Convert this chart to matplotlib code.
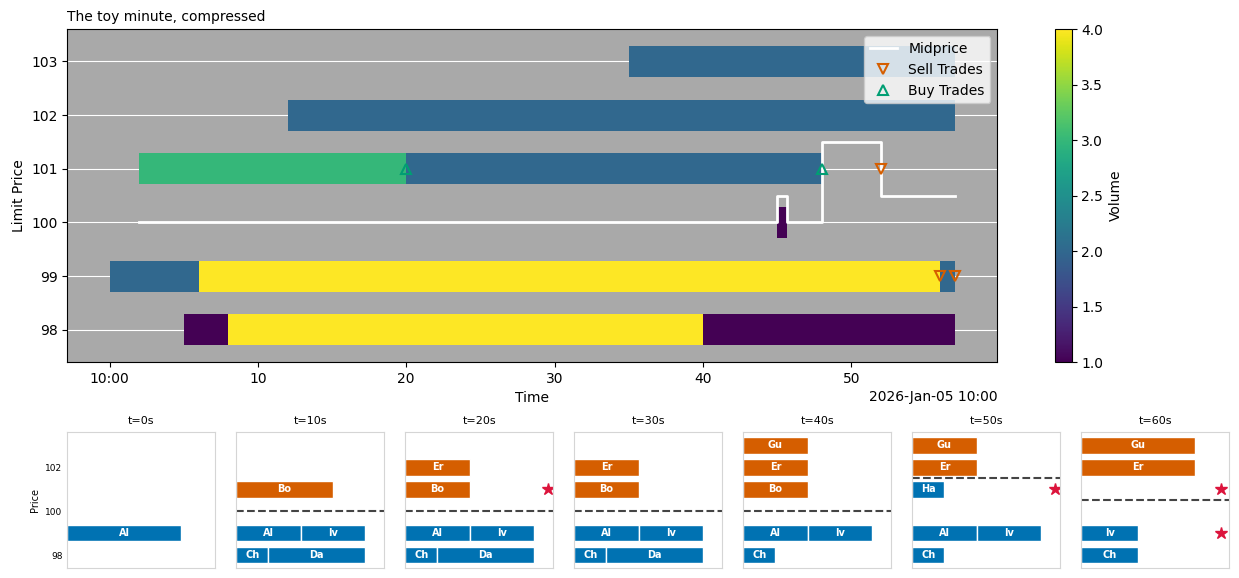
import numpy as np
import matplotlib.pyplot as plt
import matplotlib.dates as mdates
from datetime import datetime

# main chart: resting volume per price level over time (seconds after 10:00)
seg_price = [103, 102, 101, 101, 100, 99, 99, 99, 98, 98, 98]
seg_start = [35, 12, 2, 20, 45, 0, 6, 56, 5, 8, 40]
seg_end = [57, 57, 20, 48, 45.7, 6, 56, 57, 8, 40, 57]
seg_vol = [2, 2, 3, 2, 1, 2, 4, 2, 1, 4, 1]

mid_t = [2, 45, 45.7, 48, 52, 57]
mid_p = [100, 100.5, 100, 101.5, 100.5, 100.5]

sell_t = [52, 56, 57]
sell_p = [101, 99, 99]
buy_t = [20, 48]
buy_p = [101, 101]

# snapshots: (order, side, price, volume) in queue order
snap_times = [0, 10, 20, 30, 40, 50, 60]
snap_mids = [None, 100, 100, 100, 100, 101.5, 100.5]
snap_trades = [[], [], [101], [], [], [101], [101, 99]]
book_t0 = [("Al", "bid", 99, 2)]
book_t10 = [("Bo", "ask", 101, 3), ("Al", "bid", 99, 2), ("Iv", "bid", 99, 2),
            ("Ch", "bid", 98, 1), ("Da", "bid", 98, 3)]
book_t20 = [("Er", "ask", 102, 2), ("Bo", "ask", 101, 2), ("Al", "bid", 99, 2),
            ("Iv", "bid", 99, 2), ("Ch", "bid", 98, 1), ("Da", "bid", 98, 3)]
book_t30 = [("Er", "ask", 102, 2), ("Bo", "ask", 101, 2), ("Al", "bid", 99, 2),
            ("Iv", "bid", 99, 2), ("Ch", "bid", 98, 1), ("Da", "bid", 98, 3)]
book_t40 = [("Gu", "ask", 103, 2), ("Er", "ask", 102, 2), ("Bo", "ask", 101, 2),
            ("Al", "bid", 99, 2), ("Iv", "bid", 99, 2), ("Ch", "bid", 98, 1)]
book_t50 = [("Gu", "ask", 103, 2), ("Er", "ask", 102, 2), ("Ha", "bid", 101, 1),
            ("Al", "bid", 99, 2), ("Iv", "bid", 99, 2), ("Ch", "bid", 98, 1)]
book_t60 = [("Gu", "ask", 103, 2), ("Er", "ask", 102, 2), ("Iv", "bid", 99, 1),
            ("Ch", "bid", 98, 1)]
books = [book_t0, book_t10, book_t20, book_t30, book_t40, book_t50, book_t60]

base = mdates.date2num(datetime(2026, 1, 5, 10, 0, 0))
def tnum(s):
    return base + np.asarray(s, dtype=float) / 86400.0

W, H = 1239, 578
def rect(l, t, r, b):
    return [l / W, 1 - b / H, (r - l) / W, (b - t) / H]

fig = plt.figure(figsize=(12.39, 5.78), dpi=100)
ax = fig.add_axes(rect(67.3, 29.3, 997.3, 362))
cax = fig.add_axes(rect(1055.3, 29.3, 1071.7, 362))

cmap = plt.get_cmap('viridis')
norm = plt.Normalize(1, 4)

ax.set_facecolor('darkgray')
for p, s, e, v in zip(seg_price, seg_start, seg_end, seg_vol):
    ax.barh(p, (e - s) / 86400.0, left=tnum(s), height=0.58,
            color=cmap(norm(v)), linewidth=0, zorder=2)
ax.plot(tnum(mid_t), mid_p, drawstyle='steps-post', color='white', lw=2,
        label='Midprice', zorder=3)
ax.plot(tnum(sell_t), sell_p, 'v', ls='none', mfc='none', mec='#D55E00',
        mew=1.5, ms=7, label='Sell Trades', zorder=4)
ax.plot(tnum(buy_t), buy_p, '^', ls='none', mfc='none', mec='#009E73',
        mew=1.5, ms=7, label='Buy Trades', zorder=4)

ax.xaxis_date()
loc = mdates.SecondLocator(bysecond=range(0, 60, 10))
ax.xaxis.set_major_locator(loc)
ax.xaxis.set_major_formatter(mdates.ConciseDateFormatter(loc))
ax.set_xlim(tnum(-2.85), tnum(59.85))
ax.set_ylim(97.4, 103.6)
ax.set_yticks([98, 99, 100, 101, 102, 103])
ax.grid(axis='y', color='white', linewidth=0.8)
ax.set_axisbelow(True)
ax.set_xlabel('Time')
ax.set_ylabel('Limit Price')
ax.set_title('The toy minute, compressed', loc='left', fontsize=10)
ax.legend(loc='upper right')

sm = plt.cm.ScalarMappable(norm=norm, cmap=cmap)
fig.colorbar(sm, cax=cax, label='Volume')

side_col = {"bid": "#0072B2", "ask": "#D55E00"}
for k, (t, book) in enumerate(zip(snap_times, books)):
    pax = fig.add_axes(rect(67.3 + 169 * k, 432.3, 215.3 + 169 * k, 568.3))
    cum = {}
    for name, side, price, vol in book:
        left = cum.get(price, 0)
        pax.barh(price, vol, left=left, height=0.75, color=side_col[side],
                 edgecolor='white', linewidth=1)
        pax.text(left + vol / 2, price, name, ha='center', va='center',
                 color='white', fontsize=7, fontweight='bold')
        cum[price] = left + vol
    total = max(cum.values())
    pax.set_xlim(0, total + 0.6)
    pax.set_ylim(97.4, 103.6)
    if snap_mids[k] is not None:
        pax.axhline(snap_mids[k], color='#444444', ls='--', lw=1.5)
    for tp in snap_trades[k]:
        pax.plot(total + 0.45, tp, '*', color='crimson', ms=9)
    pax.set_xticks([])
    if k == 0:
        pax.set_yticks([98, 100, 102])
        pax.tick_params(axis='y', length=0, labelsize=6.5)
        pax.set_ylabel('Price', fontsize=7)
    else:
        pax.set_yticks([])
    for sp in pax.spines.values():
        sp.set_color('#d5d5d5')
    pax.set_title(f't={t}s', fontsize=8)

fig.savefig('out.png', dpi=100)
